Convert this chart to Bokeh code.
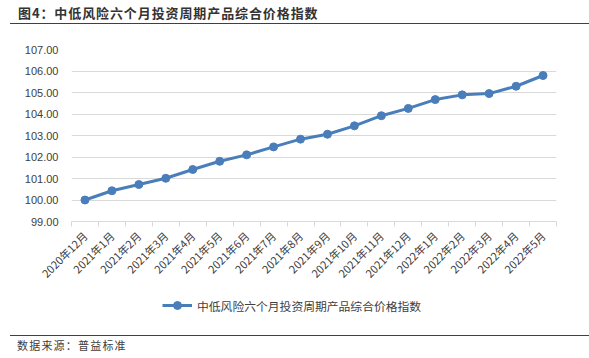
from bokeh.plotting import figure
from bokeh.models import Range1d, FixedTicker, Legend, LegendItem, Div, ColumnDataSource, NumeralTickFormatter
from bokeh.layouts import column
from bokeh.embed import file_html
from bokeh.resources import INLINE
import math

months = ["2020年12月", "2021年1月", "2021年2月", "2021年3月", "2021年4月", "2021年5月",
          "2021年6月", "2021年7月", "2021年8月", "2021年9月", "2021年10月", "2021年11月",
          "2021年12月", "2022年1月", "2022年2月", "2022年3月", "2022年4月", "2022年5月"]
index_values = [100.00, 100.43, 100.72, 101.01, 101.42, 101.80, 102.10, 102.47, 102.83,
                103.06, 103.45, 103.92, 104.26, 104.67, 104.89, 104.95, 105.29, 105.79]
y_ticks = [99, 100, 101, 102, 103, 104, 105, 106, 107]
series_name = "中低风险六个月投资周期产品综合价格指数"
title_text = "图4：中低风险六个月投资周期产品综合价格指数"
source_text = "数据来源：普益标准"

CJK = "'Noto Sans CJK SC', sans-serif"
BLUE = "#4A7EBB"

xs = [i + 0.5 for i in range(len(months))]
src = ColumnDataSource(data=dict(x=xs, y=index_values, m=months))

p = figure(width=589, height=262, output_backend="svg", toolbar_location=None,
           x_range=Range1d(0, len(months)), y_range=Range1d(99, 107),
           min_border_left=71, min_border_right=33, min_border_top=19, min_border_bottom=71,
           sizing_mode="fixed")
p.outline_line_color = None
p.background_fill_color = "white"
p.border_fill_color = "white"

r_line = p.line("x", "y", source=src, line_color=BLUE, line_width=3)
r_pts = p.scatter("x", "y", source=src, size=8, fill_color=BLUE, line_color=BLUE)

# y axis
p.yaxis.ticker = FixedTicker(ticks=y_ticks)
p.yaxis.formatter = NumeralTickFormatter(format="0.00")
p.yaxis.axis_line_color = None
p.yaxis.major_tick_line_color = None
p.yaxis.minor_tick_line_color = None
p.yaxis.major_label_text_font = "Liberation Sans"
p.yaxis.major_label_text_font_size = "11px"
p.yaxis.major_label_text_color = "#404040"
p.yaxis.major_label_standoff = 7

# x axis
p.xaxis.ticker = FixedTicker(ticks=xs, minor_ticks=list(range(len(months) + 1)))
p.xaxis.major_label_overrides = {x: m for x, m in zip(xs, months)}
p.xaxis.major_tick_line_color = None
p.xaxis.minor_tick_line_color = "#d9d9d9"
p.xaxis.minor_tick_out = 5
p.xaxis.minor_tick_in = 0
p.xaxis.axis_line_color = "#d9d9d9"
p.xaxis.axis_line_width = 1
p.xaxis.major_label_orientation = math.pi / 4
p.xaxis.major_label_text_font = CJK
p.xaxis.major_label_text_font_size = "11px"
p.xaxis.major_label_text_color = "#404040"
p.xaxis.major_label_standoff = 6

p.xgrid.grid_line_color = None
p.ygrid.ticker = FixedTicker(ticks=y_ticks)
p.ygrid.grid_line_color = "#d9d9d9"
p.ygrid.grid_line_width = 1

# legend strip: same series drawn in a small canvas whose ranges keep it out of view
lg = figure(width=589, height=28, output_backend="svg", toolbar_location=None,
            x_range=Range1d(1000, 1001), y_range=Range1d(1000, 1001), min_border=0,
            x_axis_location=None, y_axis_location=None, sizing_mode="fixed")
lg.grid.visible = False
lg.outline_line_color = None
lg_line = lg.line("x", "y", source=src, line_color=BLUE, line_width=3)
lg_pts = lg.scatter("x", "y", source=src, size=8, fill_color=BLUE, line_color=BLUE)
legend = Legend(items=[LegendItem(label=series_name, renderers=[lg_line, lg_pts])],
                location=(91, 5), orientation="horizontal",
                label_text_font=CJK, label_text_font_size="11.8px", label_text_color="#404040",
                glyph_width=30, label_standoff=5, border_line_color=None, background_fill_alpha=0,
                margin=0, padding=2)
lg.add_layout(legend, "center")

title_div = Div(text=(
    f'<div style="width:579px;height:24px;box-sizing:border-box;border-bottom:1.5px solid #404040;'
    f'padding-top:4px;padding-left:8px;line-height:18px;font-family:{CJK};font-weight:bold;'
    f'font-size:13px;letter-spacing:0.9px;color:#333333;">{title_text}</div>'),
    width=579, height=30, margin=(0, 0, 0, 10), sizing_mode="fixed")
foot_div = Div(text=(
    f'<div style="width:579px;margin-top:15px;border-top:1.5px solid #404040;padding-left:7px;'
    f'line-height:18px;font-family:{CJK};font-size:11px;letter-spacing:1.2px;color:#404040;">{source_text}</div>'),
    width=579, height=38, margin=(0, 0, 0, 10), sizing_mode="fixed")

layout = column(title_div, p, lg, foot_div, spacing=0)
open("out.html", "w").write(file_html(layout, INLINE))
